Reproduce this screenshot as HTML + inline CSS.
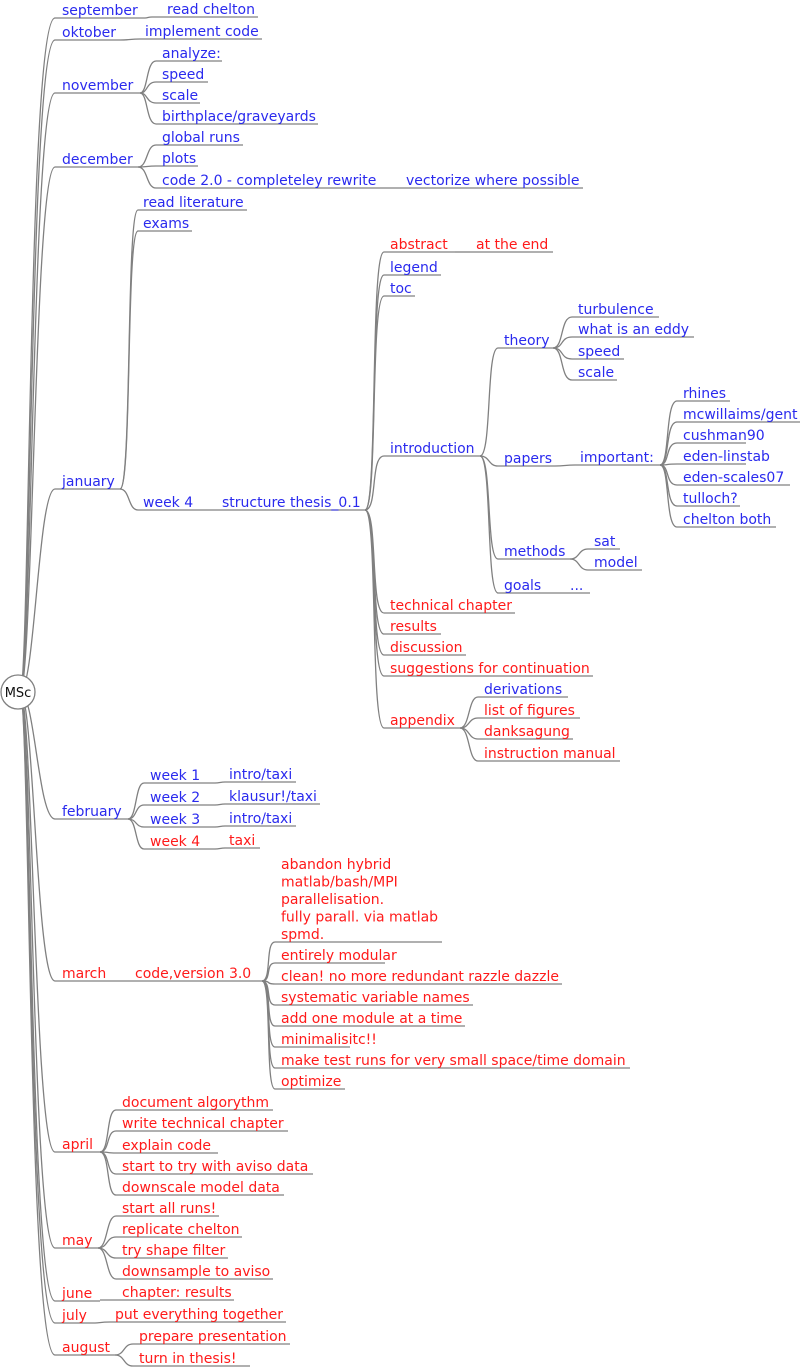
<!DOCTYPE html>
<html><head><meta charset="utf-8"><style>
html,body{margin:0;padding:0;background:#fff}
svg{display:block}
text{font-family:"DejaVu Sans","Liberation Sans",sans-serif;font-size:14px}
.b{fill:#2a2aee}.r{fill:#ff1a1a}
path,line{stroke:#808080;stroke-width:1.3;fill:none}
</style></head><body>
<svg width="800" height="1368" viewBox="0 0 800 1368" xmlns="http://www.w3.org/2000/svg">
<g>
<path d="M20 692 C30 692 28 18 55 18"/>
<path d="M20 692 C31 692 30 40 55 40"/>
<path d="M20 692 C32 692 32 93 55 93"/>
<path d="M20 692 C33 692 34 167 55 167"/>
<path d="M20 692 C35 692 38 489 55 489"/>
<path d="M20 692 C35 692 38 819 55 819"/>
<path d="M20 692 C34 692 36 981 55 981"/>
<path d="M20 692 C33 692 34 1152 55 1152"/>
<path d="M20 692 C32 692 32 1248 55 1248"/>
<path d="M20 692 C31 692 30 1301 55 1301"/>
<path d="M20 692 C30 692 29 1323 55 1323"/>
<path d="M20 692 C30 692 28 1355 55 1355"/>
</g>
<circle cx="18" cy="692" r="17" fill="#fff" stroke="#808080" stroke-width="1.3"/>
<text x="18" y="697" text-anchor="middle" style="font-size:13px" fill="#111">MSc</text>

<line x1="55" y1="18" x2="145" y2="18"/><text class="b" x="62" y="15">september</text>
<path d="M145 18 C148 18 148 17 152 17"/><line x1="152" y1="17" x2="258" y2="17"/><text class="b" x="167" y="14">read chelton</text>
<line x1="55" y1="40" x2="120" y2="40"/><text class="b" x="62" y="37">oktober</text>
<path d="M120 40 C130 40 130 39 140 39"/><line x1="140" y1="39" x2="262" y2="39"/><text class="b" x="145" y="36">implement code</text>
<line x1="55" y1="93" x2="140" y2="93"/><text class="b" x="62" y="90">november</text>
<path d="M140 93 C148 93 146 61 156 61"/><line x1="156" y1="61" x2="222" y2="61"/><text class="b" x="162" y="58">analyze:</text>
<path d="M140 93 C148 93 146 82 156 82"/><line x1="156" y1="82" x2="208" y2="82"/><text class="b" x="162" y="79">speed</text>
<path d="M140 93 C148 93 146 103 156 103"/><line x1="156" y1="103" x2="200" y2="103"/><text class="b" x="162" y="100">scale</text>
<path d="M140 93 C148 93 146 124 156 124"/><line x1="156" y1="124" x2="318" y2="124"/><text class="b" x="162" y="121">birthplace/graveyards</text>
<line x1="55" y1="167" x2="138" y2="167"/><text class="b" x="62" y="164">december</text>
<path d="M138 167 C148 167 146 145 156 145"/><line x1="156" y1="145" x2="243" y2="145"/><text class="b" x="162" y="142">global runs</text>
<path d="M138 167 C148 167 146 166 156 166"/><line x1="156" y1="166" x2="198" y2="166"/><text class="b" x="162" y="163">plots</text>
<path d="M138 167 C148 167 146 188 156 188"/><line x1="156" y1="188" x2="385" y2="188"/><text class="b" x="162" y="185">code 2.0 - completeley rewrite</text>
<line x1="385" y1="188" x2="583" y2="188"/><text class="b" x="406" y="185">vectorize where possible</text>
<line x1="55" y1="489" x2="120" y2="489"/><text class="b" x="62" y="486">january</text>
<path d="M120 489 C132 489 126 210 138 210"/><line x1="138" y1="210" x2="247" y2="210"/><text class="b" x="143" y="207">read literature</text>
<path d="M120 489 C132 489 126 231 138 231"/><line x1="138" y1="231" x2="192" y2="231"/><text class="b" x="143" y="228">exams</text>
<path d="M120 489 C130 489 128 510 138 510"/><line x1="138" y1="510" x2="215" y2="510"/><text class="b" x="143" y="507">week 4</text>
<line x1="215" y1="510" x2="365" y2="510"/><text class="b" x="222" y="507">structure thesis_0.1</text>
<path d="M365 510 C378 510 370 252 384 252"/><line x1="384" y1="252" x2="455" y2="252"/><text class="r" x="390" y="249">abstract</text>
<path d="M455 252 C462 252 462 252 470 252"/><line x1="470" y1="252" x2="553" y2="252"/><text class="r" x="476" y="249">at the end</text>
<path d="M365 510 C378 510 370 275 384 275"/><line x1="384" y1="275" x2="441" y2="275"/><text class="b" x="390" y="272">legend</text>
<path d="M365 510 C378 510 370 296 384 296"/><line x1="384" y1="296" x2="415" y2="296"/><text class="b" x="390" y="293">toc</text>
<path d="M365 510 C378 510 370 456 384 456"/><line x1="384" y1="456" x2="480" y2="456"/><text class="b" x="390" y="453">introduction</text>
<path d="M365 510 C378 510 370 613 384 613"/><line x1="384" y1="613" x2="515" y2="613"/><text class="r" x="390" y="610">technical chapter</text>
<path d="M365 510 C378 510 370 634 384 634"/><line x1="384" y1="634" x2="441" y2="634"/><text class="r" x="390" y="631">results</text>
<path d="M365 510 C378 510 370 655 384 655"/><line x1="384" y1="655" x2="466" y2="655"/><text class="r" x="390" y="652">discussion</text>
<path d="M365 510 C378 510 370 676 384 676"/><line x1="384" y1="676" x2="593" y2="676"/><text class="r" x="390" y="673">suggestions for continuation</text>
<path d="M365 510 C378 510 370 728 384 728"/><line x1="384" y1="728" x2="460" y2="728"/><text class="r" x="390" y="725">appendix</text>
<path d="M480 456 C492 456 486 348 498 348"/><line x1="498" y1="348" x2="553" y2="348"/><text class="b" x="504" y="345">theory</text>
<path d="M480 456 C490 456 488 466 498 466"/><line x1="498" y1="466" x2="555" y2="466"/><text class="b" x="504" y="463">papers</text>
<path d="M480 456 C492 456 486 559 498 559"/><line x1="498" y1="559" x2="570" y2="559"/><text class="b" x="504" y="556">methods</text>
<path d="M480 456 C492 456 486 593 498 593"/><line x1="498" y1="593" x2="547" y2="593"/><text class="b" x="504" y="590">goals</text>
<path d="M553 348 C564 348 560 317 572 317"/><line x1="572" y1="317" x2="659" y2="317"/><text class="b" x="578" y="314">turbulence</text>
<path d="M553 348 C564 348 560 337 572 337"/><line x1="572" y1="337" x2="694" y2="337"/><text class="b" x="578" y="334">what is an eddy</text>
<path d="M553 348 C564 348 560 359 572 359"/><line x1="572" y1="359" x2="624" y2="359"/><text class="b" x="578" y="356">speed</text>
<path d="M553 348 C564 348 560 380 572 380"/><line x1="572" y1="380" x2="617" y2="380"/><text class="b" x="578" y="377">scale</text>
<path d="M555 466 C565 466 565 465 575 465"/><line x1="575" y1="465" x2="660" y2="465"/><text class="b" x="580" y="462">important:</text>
<path d="M660 465 C670 465 665 401 677 401"/><line x1="677" y1="401" x2="730" y2="401"/><text class="b" x="683" y="398">rhines</text>
<path d="M660 465 C670 465 665 422 677 422"/><line x1="677" y1="422" x2="800" y2="422"/><text class="b" x="683" y="419">mcwillaims/gent</text>
<path d="M660 465 C670 465 665 443 677 443"/><line x1="677" y1="443" x2="746" y2="443"/><text class="b" x="683" y="440">cushman90</text>
<path d="M660 465 C670 465 665 464 677 464"/><line x1="677" y1="464" x2="746" y2="464"/><text class="b" x="683" y="461">eden-linstab</text>
<path d="M660 465 C670 465 665 485 677 485"/><line x1="677" y1="485" x2="790" y2="485"/><text class="b" x="683" y="482">eden-scales07</text>
<path d="M660 465 C670 465 665 506 677 506"/><line x1="677" y1="506" x2="740" y2="506"/><text class="b" x="683" y="503">tulloch?</text>
<path d="M660 465 C670 465 665 527 677 527"/><line x1="677" y1="527" x2="776" y2="527"/><text class="b" x="683" y="524">chelton both</text>
<path d="M570 559 C580 559 578 549 588 549"/><line x1="588" y1="549" x2="620" y2="549"/><text class="b" x="594" y="546">sat</text>
<path d="M570 559 C580 559 578 570 588 570"/><line x1="588" y1="570" x2="642" y2="570"/><text class="b" x="594" y="567">model</text>
<line x1="547" y1="593" x2="590" y2="593"/><text class="b" x="570" y="590">...</text>
<path d="M460 728 C470 728 468 697 478 697"/><line x1="478" y1="697" x2="568" y2="697"/><text class="b" x="484" y="694">derivations</text>
<path d="M460 728 C470 728 468 718 478 718"/><line x1="478" y1="718" x2="580" y2="718"/><text class="r" x="484" y="715">list of figures</text>
<path d="M460 728 C470 728 468 739 478 739"/><line x1="478" y1="739" x2="573" y2="739"/><text class="r" x="484" y="736">danksagung</text>
<path d="M460 728 C470 728 468 761 478 761"/><line x1="478" y1="761" x2="620" y2="761"/><text class="r" x="484" y="758">instruction manual</text>
<line x1="55" y1="819" x2="128" y2="819"/><text class="b" x="62" y="816">february</text>
<path d="M128 819 C137 819 135 783 144 783"/><line x1="144" y1="783" x2="215" y2="783"/><text class="b" x="150" y="780">week 1</text>
<path d="M215 783 C220 783 220 782 225 782"/><line x1="225" y1="782" x2="296" y2="782"/><text class="b" x="229" y="779">intro/taxi</text>
<path d="M128 819 C137 819 135 805 144 805"/><line x1="144" y1="805" x2="215" y2="805"/><text class="b" x="150" y="802">week 2</text>
<path d="M215 805 C220 805 220 804 225 804"/><line x1="225" y1="804" x2="320" y2="804"/><text class="b" x="229" y="801">klausur!/taxi</text>
<path d="M128 819 C137 819 135 827 144 827"/><line x1="144" y1="827" x2="215" y2="827"/><text class="b" x="150" y="824">week 3</text>
<path d="M215 827 C220 827 220 826 225 826"/><line x1="225" y1="826" x2="296" y2="826"/><text class="b" x="229" y="823">intro/taxi</text>
<path d="M128 819 C137 819 135 849 144 849"/><line x1="144" y1="849" x2="215" y2="849"/><text class="r" x="150" y="846">week 4</text>
<path d="M215 849 C220 849 220 848 225 848"/><line x1="225" y1="848" x2="260" y2="848"/><text class="r" x="229" y="845">taxi</text>
<line x1="55" y1="981" x2="112" y2="981"/><text class="r" x="62" y="978">march</text>
<line x1="112" y1="981" x2="262" y2="981"/><text class="r" x="135" y="978">code,version 3.0</text>
<path d="M262 981 C272 981 265 942 275 942"/><line x1="275" y1="942" x2="442" y2="942"/>
<text class="r" x="281" y="869">abandon hybrid</text>
<text class="r" x="281" y="886.5">matlab/bash/MPI</text>
<text class="r" x="281" y="904">parallelisation.</text>
<text class="r" x="281" y="921.5">fully parall. via matlab</text>
<text class="r" x="281" y="939">spmd.</text>
<path d="M262 981 C272 981 265 963 275 963"/><line x1="275" y1="963" x2="385" y2="963"/><text class="r" x="281" y="960">entirely modular</text>
<path d="M262 981 C272 981 265 984 275 984"/><line x1="275" y1="984" x2="562" y2="984"/><text class="r" x="281" y="981">clean! no more redundant razzle dazzle</text>
<path d="M262 981 C272 981 265 1005 275 1005"/><line x1="275" y1="1005" x2="473" y2="1005"/><text class="r" x="281" y="1002">systematic variable names</text>
<path d="M262 981 C272 981 265 1026 275 1026"/><line x1="275" y1="1026" x2="465" y2="1026"/><text class="r" x="281" y="1023">add one module at a time</text>
<path d="M262 981 C272 981 265 1047 275 1047"/><line x1="275" y1="1047" x2="350" y2="1047"/><text class="r" x="281" y="1044">minimalisitc!!</text>
<path d="M262 981 C272 981 265 1068 275 1068"/><line x1="275" y1="1068" x2="630" y2="1068"/><text class="r" x="281" y="1065">make test runs for very small space/time domain</text>
<path d="M262 981 C272 981 265 1089 275 1089"/><line x1="275" y1="1089" x2="345" y2="1089"/><text class="r" x="281" y="1086">optimize</text>
<line x1="55" y1="1152" x2="100" y2="1152"/><text class="r" x="62" y="1149">april</text>
<path d="M100 1152 C110 1152 106 1110 116 1110"/><line x1="116" y1="1110" x2="273" y2="1110"/><text class="r" x="122" y="1107">document algorythm</text>
<path d="M100 1152 C110 1152 106 1131 116 1131"/><line x1="116" y1="1131" x2="288" y2="1131"/><text class="r" x="122" y="1128">write technical chapter</text>
<path d="M100 1152 C110 1152 106 1153 116 1153"/><line x1="116" y1="1153" x2="218" y2="1153"/><text class="r" x="122" y="1150">explain code</text>
<path d="M100 1152 C110 1152 106 1174 116 1174"/><line x1="116" y1="1174" x2="313" y2="1174"/><text class="r" x="122" y="1171">start to try with aviso data</text>
<path d="M100 1152 C110 1152 106 1195 116 1195"/><line x1="116" y1="1195" x2="284" y2="1195"/><text class="r" x="122" y="1192">downscale model data</text>
<line x1="55" y1="1248" x2="98" y2="1248"/><text class="r" x="62" y="1245">may</text>
<path d="M98 1248 C108 1248 106 1216 116 1216"/><line x1="116" y1="1216" x2="219" y2="1216"/><text class="r" x="122" y="1213">start all runs!</text>
<path d="M98 1248 C108 1248 106 1237 116 1237"/><line x1="116" y1="1237" x2="242" y2="1237"/><text class="r" x="122" y="1234">replicate chelton</text>
<path d="M98 1248 C108 1248 106 1258 116 1258"/><line x1="116" y1="1258" x2="228" y2="1258"/><text class="r" x="122" y="1255">try shape filter</text>
<path d="M98 1248 C108 1248 106 1279 116 1279"/><line x1="116" y1="1279" x2="273" y2="1279"/><text class="r" x="122" y="1276">downsample to aviso</text>
<line x1="55" y1="1301" x2="100" y2="1301"/><text class="r" x="62" y="1298">june</text>
<line x1="100" y1="1300" x2="234" y2="1300"/><text class="r" x="122" y="1297">chapter: results</text>
<line x1="55" y1="1323" x2="95" y2="1323"/><text class="r" x="62" y="1320">july</text>
<path d="M95 1323 C100 1323 100 1322 110 1322"/><line x1="110" y1="1322" x2="286" y2="1322"/><text class="r" x="115" y="1319">put everything together</text>
<line x1="55" y1="1355" x2="115" y2="1355"/><text class="r" x="62" y="1352">august</text>
<path d="M115 1355 C125 1355 123 1344 133 1344"/><line x1="133" y1="1344" x2="290" y2="1344"/><text class="r" x="139" y="1341">prepare presentation</text>
<path d="M115 1355 C125 1355 123 1366 133 1366"/><line x1="133" y1="1366" x2="250" y2="1366"/><text class="r" x="139" y="1363">turn in thesis!</text>
</svg>
</body></html>
